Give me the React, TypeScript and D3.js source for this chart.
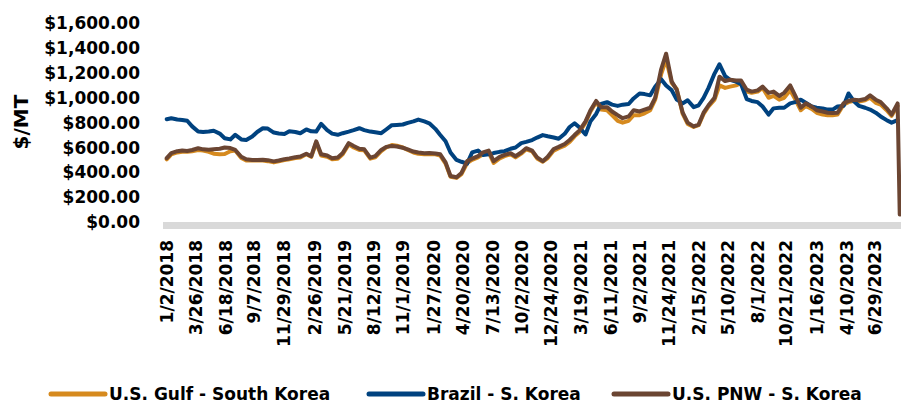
import { useRef, useEffect } from 'react';
import * as d3 from 'd3';

const W = 901;
const H = 409;

// semi-monthly readings ($/MT)
const dates = [
  '2018-01-02', '2018-01-15', '2018-02-01', '2018-02-15', '2018-03-01', '2018-03-15',
  '2018-04-01', '2018-04-15', '2018-05-01', '2018-05-15', '2018-06-01', '2018-06-15',
  '2018-07-01', '2018-07-15', '2018-08-01', '2018-08-15', '2018-09-01', '2018-09-15',
  '2018-10-01', '2018-10-15', '2018-11-01', '2018-11-15', '2018-12-01', '2018-12-15',
  '2019-01-01', '2019-01-15', '2019-02-01', '2019-02-15', '2019-03-01', '2019-03-15',
  '2019-04-01', '2019-04-15', '2019-05-01', '2019-05-15', '2019-06-01', '2019-06-15',
  '2019-07-01', '2019-07-15', '2019-08-01', '2019-08-15', '2019-09-01', '2019-09-15',
  '2019-10-01', '2019-10-15', '2019-11-01', '2019-11-15', '2019-12-01', '2019-12-15',
  '2020-01-01', '2020-01-15', '2020-02-01', '2020-02-15', '2020-03-01', '2020-03-15',
  '2020-04-01', '2020-04-15', '2020-05-01', '2020-05-15', '2020-06-01', '2020-06-15',
  '2020-07-01', '2020-07-15', '2020-08-01', '2020-08-15', '2020-09-01', '2020-09-15',
  '2020-10-01', '2020-10-15', '2020-11-01', '2020-11-15', '2020-12-01', '2020-12-15',
  '2021-01-01', '2021-01-15', '2021-02-01', '2021-02-15', '2021-03-01', '2021-03-15',
  '2021-04-01', '2021-04-15', '2021-05-01', '2021-05-15', '2021-06-01', '2021-06-15',
  '2021-07-01', '2021-07-15', '2021-08-01', '2021-08-15', '2021-09-01', '2021-09-15',
  '2021-10-01', '2021-10-15', '2021-11-01', '2021-11-15', '2021-12-01', '2021-12-15',
  '2022-01-01', '2022-01-15', '2022-02-01', '2022-02-15', '2022-03-01', '2022-03-15',
  '2022-04-01', '2022-04-15', '2022-05-01', '2022-05-15', '2022-06-01', '2022-06-15',
  '2022-07-01', '2022-07-15', '2022-08-01', '2022-08-15', '2022-09-01', '2022-09-15',
  '2022-10-01', '2022-10-15', '2022-11-01', '2022-11-15', '2022-12-01', '2022-12-15',
  '2023-01-01', '2023-01-15', '2023-02-01', '2023-02-15', '2023-03-01', '2023-03-15',
  '2023-04-01', '2023-04-15', '2023-05-01', '2023-05-15', '2023-06-01', '2023-06-15',
  '2023-07-01', '2023-07-15', '2023-08-01', '2023-08-15', '2023-09-01', '2023-09-07',
];

const gulf = [
  505, 545, 560, 565, 565, 570, 580, 575, 565, 550, 545, 548,
  570, 575, 515, 495, 495, 495, 495, 490, 480, 488, 498, 505,
  515, 520, 545, 525, 640, 535, 525, 505, 510, 545, 625, 600,
  580, 578, 510, 520, 570, 600, 620, 615, 600, 580, 560, 550,
  545, 545, 545, 535, 470, 365, 355, 385, 475, 500, 520, 545,
  560, 475, 512, 530, 545, 520, 550, 585, 568, 512, 485, 515,
  575, 595, 615, 645, 690, 725, 800, 890, 965, 905, 900, 860,
  815, 800, 815, 860, 860, 875, 900, 985, 1190, 1310, 1120, 1070,
  870, 790, 765, 780, 870, 930, 985, 1100, 1080, 1090, 1100, 1120,
  1050, 1040, 1050, 1080, 1000, 1015, 985, 1000, 1060, 990, 900, 935,
  910, 880, 865, 860, 860, 865, 945, 965, 975, 970, 980, 1000,
  960, 945, 900, 855, 935, null,
];

const brazil = [
  828, 835, 825, 822, 815, 770, 728, 725, 728, 735, 712, 675,
  665, 702, 665, 660, 688, 725, 755, 752, 720, 712, 708, 730,
  725, 715, 745, 730, 728, 790, 740, 712, 702, 715, 728, 740,
  755, 740, 728, 722, 715, 745, 780, 782, 785, 798, 810, 825,
  810, 795, 750, 700, 650, 560, 500, 485, 470, 560, 575, 540,
  545, 555, 565, 570, 590, 600, 635, 645, 660, 680, 700, 690,
  680, 670, 710, 765, 795, 760, 705, 810, 870, 950, 965, 945,
  935, 945, 950, 995, 1035, 1030, 1020, 1090, 1150, 1100, 1060, 985,
  955, 980, 925, 940, 1000, 1080, 1195, 1270, 1175, 1145, 1130, 1110,
  990, 975, 965, 930, 865, 915, 920, 920, 955, 965, 985, 960,
  930, 920, 915, 905, 905, 930, 935, 1035, 970, 935, 920, 905,
  880, 850, 820, 800, 820, null,
];

const pnw = [
  514, 555, 570, 575, 572, 580, 594, 585, 581, 585, 590, 600,
  595, 580, 525, 505, 500, 500, 502, 498, 488, 495, 505, 512,
  522, 527, 550, 530, 650, 545, 535, 514, 520, 555, 635, 612,
  590, 585, 518, 530, 580, 605, 612, 608, 598, 585, 567, 560,
  554, 555, 552, 545, 480, 370, 360, 395, 490, 510, 530, 560,
  575, 490, 525, 540, 554, 530, 560, 594, 575, 520, 490, 525,
  588, 605, 628, 660, 700, 738, 810, 900, 975, 925, 925, 890,
  860, 836, 850, 900, 890, 905, 920, 1000, 1230, 1355, 1130, 1065,
  880, 800, 770, 785, 880, 940, 1000, 1170, 1135, 1145, 1140, 1140,
  1065, 1050, 1060, 1090, 1040, 1050, 1015, 1040, 1100, 1020, 920, 955,
  930, 900, 890, 880, 877, 880, 955, 975, 984, 980, 990, 1020,
  985, 965, 915, 865, 955, 60,
];

const tickLabels = [
  '1/2/2018', '3/26/2018', '6/18/2018', '9/7/2018', '11/29/2018', '2/26/2019',
  '5/21/2019', '8/12/2019', '11/1/2019', '1/27/2020', '4/20/2020', '7/13/2020',
  '10/2/2020', '12/24/2020', '3/19/2021', '6/11/2021', '9/2/2021', '11/24/2021',
  '2/15/2022', '5/10/2022', '8/1/2022', '10/21/2022', '1/16/2023', '4/10/2023',
  '6/29/2023',
];

const yTicks = [0, 200, 400, 600, 800, 1000, 1200, 1400, 1600];

const seriesNames = ['U.S. Gulf - South Korea', 'Brazil - S. Korea', 'U.S. PNW - S. Korea'];
const seriesColors = ['#D68A1E', '#00427F', '#6B4532'];
const seriesValues = [gulf, brazil, pnw];

const FONT = '"DejaVu Sans", Verdana, sans-serif';

export default function App() {
  const svgRef = useRef<SVGSVGElement>(null);

  useEffect(() => {
    if (!svgRef.current) return;
    const svg = d3.select(svgRef.current);
    svg.selectAll('*').remove();

    const parseIso = d3.timeParse('%Y-%m-%d');
    const parseLbl = d3.timeParse('%m/%d/%Y');
    const xs = dates.map(d => parseIso(d) as Date);

    const x = d3.scaleTime()
      .domain([parseLbl('1/2/2018') as Date, parseLbl('6/29/2023') as Date])
      .range([166.7, 875]);
    const y = d3.scaleLinear().domain([0, 1600]).range([222, 23.3]);

    // y axis labels
    const fmt = d3.format('$,.2f');
    svg.append('g')
      .selectAll('text')
      .data(yTicks)
      .join('text')
      .attr('x', 140)
      .attr('y', d => y(d))
      .attr('dy', '0.36em')
      .attr('text-anchor', 'end')
      .attr('font-family', FONT)
      .attr('font-weight', 700)
      .attr('font-size', 17)
      .attr('fill', '#000')
      .text(d => fmt(d));

    svg.append('text')
      .attr('transform', 'translate(21,122) rotate(-90)')
      .attr('dy', '0.36em')
      .attr('text-anchor', 'middle')
      .attr('font-family', FONT)
      .attr('font-weight', 700)
      .attr('font-size', 20)
      .attr('fill', '#000')
      .text('$/MT');

    // series lines (Gulf, Brazil, PNW order, PNW on top)
    seriesValues.forEach((vals, si) => {
      const line = d3.line<number | null>()
        .defined(v => v !== null)
        .x((_, i) => x(xs[i]))
        .y(v => y(v as number));
      svg.append('path')
        .datum(vals)
        .attr('d', line)
        .attr('fill', 'none')
        .attr('stroke', seriesColors[si])
        .attr('stroke-width', 4)
        .attr('stroke-linejoin', 'round')
        .attr('stroke-linecap', 'round');
    });

    // category axis line
    svg.append('rect')
      .attr('x', 163)
      .attr('y', 222)
      .attr('width', W - 163)
      .attr('height', 7)
      .attr('fill', '#d9d9d9');

    // x labels
    svg.append('g')
      .selectAll('text')
      .data(tickLabels)
      .join('text')
      .attr('transform', d => `translate(${x(parseLbl(d) as Date)},240) rotate(-90)`)
      .attr('dy', '0.36em')
      .attr('text-anchor', 'end')
      .attr('font-family', FONT)
      .attr('font-weight', 700)
      .attr('font-size', 17)
      .attr('fill', '#000')
      .text(d => d);

    // legend
    const legendX = [49, 367, 612];
    const lg = svg.append('g');
    seriesNames.forEach((name, i) => {
      lg.append('line')
        .attr('x1', legendX[i] + 2)
        .attr('x2', legendX[i] + 56)
        .attr('y1', 394)
        .attr('y2', 394)
        .attr('stroke', seriesColors[i])
        .attr('stroke-width', 5)
        .attr('stroke-linecap', 'round');
      lg.append('text')
        .attr('x', legendX[i] + 60)
        .attr('y', 394)
        .attr('dy', '0.36em')
        .attr('font-family', FONT)
        .attr('font-weight', 700)
        .attr('font-size', 17)
        .attr('fill', '#000')
        .text(name);
    });
  }, []);

  return (
    <svg
      ref={svgRef}
      width={W}
      height={H}
      style={{ position: 'absolute', left: 0, top: 0, background: '#fff', display: 'block' }}
    />
  );
}
